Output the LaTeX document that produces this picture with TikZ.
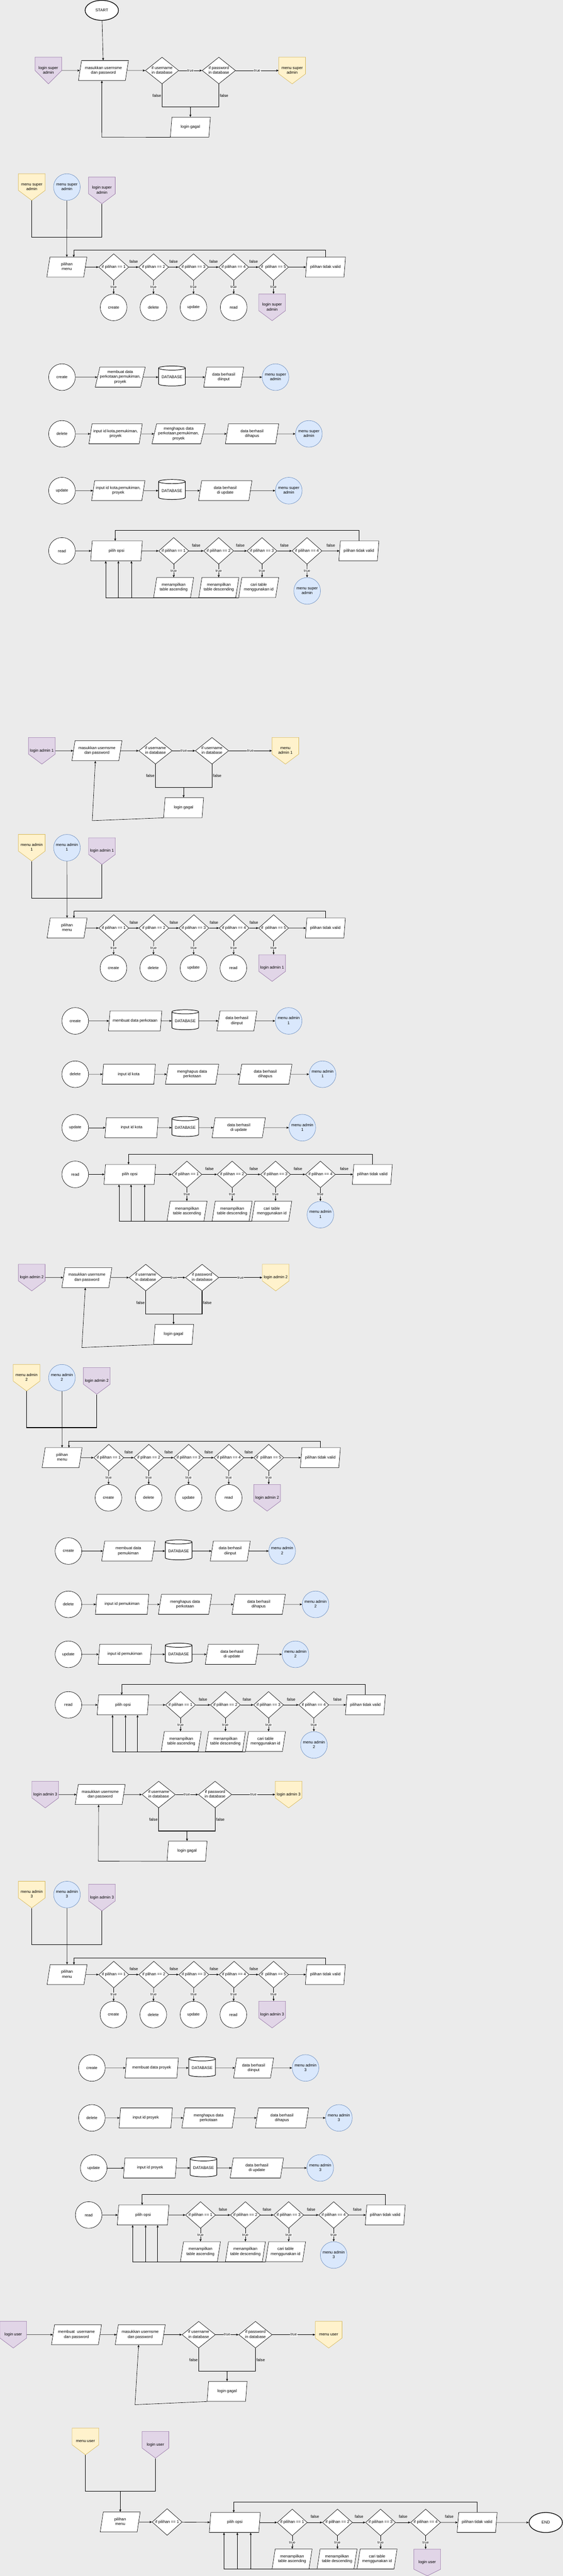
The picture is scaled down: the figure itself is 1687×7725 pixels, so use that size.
\documentclass[tikz,border=0pt]{standalone}
\usepackage{fontspec}
\setmainfont{Liberation Sans}
\usetikzlibrary{shapes.geometric,arrows.meta}

\definecolor{hintergrund}{HTML}{EBEBEB}
\definecolor{lilaF}{HTML}{E1D5E7}
\definecolor{lilaR}{HTML}{9673A6}
\definecolor{gelbF}{HTML}{FFF2CC}
\definecolor{gelbR}{HTML}{D6B656}
\definecolor{blauF}{HTML}{DAE8FC}
\definecolor{blauR}{HTML}{6C8EBF}

\newcommand{\txt}[1]{\makebox[0pt]{\begin{tabular}{@{}c@{}}#1\end{tabular}}}
% Seitenverbinder: Name, x, y, Farbe, Spitze, Text
\newcommand{\verbinder}[6]{%
  \filldraw[fill=#4F, draw=#4R] (#2-40,#3-40) -- (#2+40,#3-40) -- (#2+40,#3+40-#5)
    -- (#2,#3+40) -- (#2-40,#3+40-#5) -- cycle;
  \draw (#2,#3) node[vb] (#1) {\txt{#6}};
}

\begin{document}
\begin{tikzpicture}[x=1pt, y=-1pt, line width=1pt,
  font=\fontsize{12}{14.4}\selectfont,
  pfeil/.style={-{Stealth[length=7pt,width=6pt,inset=1.5pt]}},
  dick/.style={line width=2pt},
  raute/.style={diamond, draw, fill=white, inner sep=0pt, minimum width=90pt, minimum height=80pt},
  breit/.style={raute, minimum width=100pt},
  eingabe/.style={trapezium, trapezium left angle=72, trapezium right angle=108,
    trapezium stretches body, draw, fill=white, inner sep=0pt, minimum height=60pt, minimum width=#1},
  eingabe/.default=120pt,
  kreis/.style={ellipse, draw, fill=white, inner sep=0pt, minimum width=80pt, minimum height=80pt},
  menu/.style={kreis, fill=blauF, draw=blauR},
  db/.style={cylinder, shape border rotate=90, aspect=0.2, draw, fill=white, line width=1.5pt,
    inner sep=0pt, minimum width=80pt, minimum height=60pt},
  ende/.style={ellipse, draw, fill=white, line width=2pt, inner sep=0pt, minimum width=100pt, minimum height=60pt},
  vb/.style={inner sep=0pt, minimum width=80pt, minimum height=80pt},
  wahr/.style={fill=white, inner sep=1pt, font=\fontsize{11}{13}\selectfont},
  falsch/.style={inner sep=2pt}]

\fill[hintergrund] (0,0) rectangle (1687,7725);
\useasboundingbox (0,0) rectangle (1687,7725);

% ---------------- Super Admin ----------------
% Anmeldung
\draw (305,31) node[ende] (start) {START};
\verbinder{lp1}{145}{211.5}{lila}{40}{login super\\admin}
\draw (310,211.5) node[eingabe=150pt] (in1) {\txt{masukkan usernsme\\dan password}};
\draw (485.6,211.5) node[breit] (un1) {\txt{if username\\in database}};
\draw (655.8,211.5) node[breit] (pw1) {\txt{if password\\in database}};
\verbinder{ms1}{875.5}{211.5}{gelb}{30}{menu super\\admin}
\draw (570.5,381.3) node[eingabe] (g1) {\txt{login gagal}};
\coordinate (j1) at (570.5,321);
\draw[pfeil] (start) -- (in1);
\draw[pfeil] (lp1) -- (in1);
\draw[pfeil] (in1) -- (un1);
\draw[pfeil] (un1) -- node[wahr]{true} (pw1);
\draw[pfeil] (pw1) -- node[wahr]{true} (ms1);
\draw[dick] (un1.south) -- node[falsch,left]{false} (un1.south |- j1) -- (pw1.south |- j1) -- node[falsch,right]{false} (pw1.south);
\draw[pfeil] (j1) -- (j1 |- g1.north);
\draw[pfeil] (g1.bottom left corner) -- (305,411.3) -- (in1.bottom side);

% Menue
\verbinder{ma1}{95.3}{561}{gelb}{30}{menu super\\admin}
\draw (200.4,561) node[menu] (mb1) {\txt{menu super\\admin}};
\verbinder{mc1}{305.4}{571}{lila}{30}{login super\\admin}
\coordinate (j2) at (200.4,711.3);
\draw[dick] (ma1.south) |- (mc1.south |- j2) -- (mc1.south);
\draw (200.3,801) node[eingabe] (pm1) {\txt{pilihan\\menu}};
\draw[pfeil] (mb1) -- (pm1);
\draw (340.8,801) node[raute] (a11) {\txt{if pilihan == 1}};
\draw (460.3,801) node[raute] (a12) {\txt{if plihan == 2}};
\draw (580,801) node[raute] (a13) {\txt{if pilihan == 3}};
\draw (700.3,801) node[raute] (a14) {\txt{if pilihan == 4}};
\draw (819.7,801) node[raute] (a15) {\txt{if~~pilihan == 5}};
\draw (975.4,801) node[eingabe] (tv1) {\txt{pilihan tidak valid}};
\coordinate (k1) at (221,771);
\draw[pfeil] (pm1) -- (a11);
\draw[pfeil] (a11) -- node[falsch,above=10pt]{false} (a12);
\draw[pfeil] (a12) -- node[falsch,above=10pt]{false} (a13);
\draw[pfeil] (a13) -- node[falsch,above=10pt]{false} (a14);
\draw[pfeil] (a14) -- node[falsch,above=10pt]{false} (a15);
\draw[pfeil] (a15) -- (tv1);
\draw[pfeil] (tv1.north) -- ++(0,-20) -| (k1);
\draw (340.4,921.7) node[kreis] (cre1) {create};
\draw (459.8,921.7) node[kreis] (del1) {delete};
\draw (579.8,921.7) node[kreis] (upd1) {update};
\draw (700.3,921.7) node[kreis] (rea1) {read};
\verbinder{lx1}{815.4}{921.7}{lila}{30}{login super\\admin}
\draw[pfeil] (a11) -- node[wahr]{true} (cre1);
\draw[pfeil] (a12) -- node[wahr]{true} (del1);
\draw[pfeil] (a13) -- node[wahr]{true} (upd1);
\draw[pfeil] (a14) -- node[wahr]{true} (rea1);
\draw[pfeil] (a15.south) -- node[wahr]{true} (a15.south |- lx1.north);

% create
\draw (185.8,1131) node[kreis] (c1) {create};
\draw (360.3,1131) node[eingabe=150pt] (c1a) {\txt{membuat data\\perkotaan,pemukiman,\\proyek}};
\draw (515.3,1131) node[db] (c1b) {DATABASE};
\draw (670.4,1131) node[eingabe] (c1c) {\txt{data berhasil\\diinput}};
\draw (825.6,1131) node[menu] (c1d) {\txt{menu super\\admin}};
\draw[pfeil] (c1) -- (c1a);
\draw[pfeil] (c1a) -- (c1b);
\draw[pfeil] (c1b) -- (c1c);
\draw[pfeil] (c1c) -- (c1d);

% delete
\draw (185.8,1301) node[kreis] (d1) {delete};
\draw (346.4,1301) node[eingabe=160pt] (d1a) {\txt{input id kota,pemukiman,\\proyek}};
\draw (535.3,1301) node[eingabe=160pt] (d1b) {\txt{menghapus data\\perkotaan,pemukiman,\\proyek}};
\draw (755.3,1301) node[eingabe=160pt] (d1c) {\txt{data berhasil\\dihapus}};
\draw (925.6,1301) node[menu] (d1d) {\txt{menu super\\admin}};
\draw[pfeil] (d1) -- (d1a);
\draw[pfeil] (d1a) -- (d1b);
\draw[pfeil] (d1b) -- (d1c);
\draw[pfeil] (d1c) -- (d1d);

% update
\draw (185.8,1471.4) node[kreis] (e1) {update};
\draw (354.4,1471.4) node[eingabe=160pt] (e1a) {\txt{input id kota,pemukiman,\\proyek}};
\draw (515.3,1471.4) node[db] (e1b) {DATABASE};
\draw (675,1471.4) node[eingabe=160pt] (e1c) {\txt{data berhasil\\di update}};
\draw (865.4,1471.4) node[menu] (e1d) {\txt{menu super\\admin}};
\draw[pfeil] (e1) -- (e1a);
\draw[pfeil] (e1a) -- (e1b);
\draw[pfeil] (e1b) -- (e1c);
\draw[pfeil] (e1c) -- (e1d);

% read
\draw (185.8,1652) node[kreis] (rd1) {read};
\draw (349.2,1652) node[eingabe=155pt] (po1) {\txt{pilih opsi}};
\draw (520.6,1652) node[raute] (q11) {\txt{if pilihan == 1}};
\draw (655.3,1652) node[raute] (q12) {\txt{if pilihan == 2}};
\draw (785.2,1652) node[raute] (q13) {\txt{if pilihan == 3}};
\draw (920,1652) node[raute] (q14) {\txt{if pilihan == 4}};
\draw (1075.4,1652) node[eingabe] (rv1) {\txt{pilihan tidak valid}};
\draw (520.3,1762) node[eingabe] (o11) {\txt{menampilkan\\table ascending}};
\draw (655.7,1762) node[eingabe] (o12) {\txt{menampilkan\\table descending}};
\draw (775.3,1762) node[eingabe] (o13) {\txt{cari table\\menggunakan id}};
\draw (920.4,1772) node[menu] (o14) {\txt{menu super\\admin}};
\coordinate (k2) at (345.2,1622);
\draw[pfeil] (rd1) -- (po1);
\draw[pfeil] (po1) -- (q11);
\draw[pfeil] (q11) -- node[falsch,above=10pt]{false} (q12);
\draw[pfeil] (q12) -- node[falsch,above=10pt]{false} (q13);
\draw[pfeil] (q13) -- node[falsch,above=10pt]{false} (q14);
\draw[pfeil] (q14) -- node[falsch,above=10pt]{false} (rv1);
\draw[pfeil] (rv1.north) -- ++(0,-30.5) -| (k2);
\draw[pfeil] (q11.south) -- node[wahr]{true} (q11.south |- o11.north);
\draw[pfeil] (q12.south) -- node[wahr]{true} (q12.south |- o12.north);
\draw[pfeil] (q13.south) -- node[wahr]{true} (q13.south |- o13.north);
\draw[pfeil] (q14) -- node[wahr]{true} (o14);
\draw[pfeil] (o11.bottom left corner) -| ([xshift=47pt]po1.bottom side);
\draw[pfeil] (o12.bottom left corner) -| ([xshift=8pt]po1.bottom side);
\draw[pfeil] (o13.bottom left corner) -| ([xshift=-30pt]po1.bottom side);

% ---------------- Admin 1 ----------------
% Anmeldung
\verbinder{lp2}{125.4}{2251.4}{lila}{30}{login admin 1}
\draw (290.5,2251.4) node[eingabe=150pt] (in2) {\txt{masukkan usernsme\\dan password}};
\draw (466,2251.4) node[breit] (un2) {\txt{if username\\in database}};
\draw (635.3,2251.4) node[breit] (pw2) {\txt{if username\\in database}};
\verbinder{ms2}{855.3}{2251.4}{gelb}{30}{menu\\admin 1}
\draw (550.2,2422) node[eingabe] (g2) {\txt{login gagal}};
\coordinate (j3) at (550.2,2361.4);
\draw[pfeil] (lp2) -- (in2);
\draw[pfeil] (in2) -- (un2);
\draw[pfeil] (un2) -- node[wahr]{true} (pw2);
\draw[pfeil] (pw2) -- node[wahr]{true} (ms2);
\draw[dick] (un2.south) -- node[falsch,left]{false} (un2.south |- j3) -- (pw2.south |- j3) -- node[falsch,right]{false} (pw2.south);
\draw[pfeil] (j3) -- (j3 |- g2.north);
\draw[pfeil] (g2.bottom left corner) -- (276.5,2461) -- (in2.bottom side);

% Menue
\verbinder{ma2}{95.2}{2542.2}{gelb}{30}{menu admin\\1}
\draw (200.6,2542.2) node[menu] (mb2) {\txt{menu admin\\1}};
\verbinder{mc2}{305.5}{2552.3}{lila}{30}{login admin 1}
\coordinate (j4) at (200.6,2693.4);
\draw[dick] (ma2.south) |- (mc2.south |- j4) -- (mc2.south);
\draw (201,2783) node[eingabe] (pm2) {\txt{pilihan\\menu}};
\draw[pfeil] (mb2) -- (pm2);
\draw (341,2783) node[raute] (a21) {\txt{if pilihan == 1}};
\draw (461,2783) node[raute] (a22) {\txt{if plihan == 2}};
\draw (581,2783) node[raute] (a23) {\txt{if pilihan == 3}};
\draw (701.5,2783) node[raute] (a24) {\txt{if pilihan == 4}};
\draw (820,2783) node[raute] (a25) {\txt{if~~pilihan == 5}};
\draw (975,2783) node[eingabe] (tv2) {\txt{pilihan tidak valid}};
\coordinate (k3) at (221.6,2753);
\draw[pfeil] (pm2) -- (a21);
\draw[pfeil] (a21) -- node[falsch,above=10pt]{false} (a22);
\draw[pfeil] (a22) -- node[falsch,above=10pt]{false} (a23);
\draw[pfeil] (a23) -- node[falsch,above=10pt]{false} (a24);
\draw[pfeil] (a24) -- node[falsch,above=10pt]{false} (a25);
\draw[pfeil] (a25) -- (tv2);
\draw[pfeil] (tv2.north) -- ++(0,-20.4) -| (k3);
\draw (340,2903) node[kreis] (cre2) {create};
\draw (459.4,2903) node[kreis] (del2) {delete};
\draw (579.9,2903) node[kreis] (upd2) {update};
\draw (699.3,2903) node[kreis] (rea2) {read};
\verbinder{lx2}{815.5}{2903}{lila}{30}{login admin 1}
\draw[pfeil] (a21) -- node[wahr]{true} (cre2);
\draw[pfeil] (a22) -- node[wahr]{true} (del2);
\draw[pfeil] (a23) -- node[wahr]{true} (upd2);
\draw[pfeil] (a24) -- node[wahr]{true} (rea2);
\draw[pfeil] (a25.south) -- node[wahr]{true} (a25.south |- lx2.north);

% create
\draw (225.4,3061.5) node[kreis] (c2) {create};
\draw (405,3061.5) node[eingabe=160pt] (c2a) {\txt{membuat data perkotaan}};
\draw (555.2,3061.5) node[db] (c2b) {DATABASE};
\draw (710,3061.5) node[eingabe] (c2c) {\txt{data berhasil\\diinput}};
\draw (865,3061.5) node[menu] (c2d) {\txt{menu admin\\1}};
\draw[pfeil] (c2) -- (c2a);
\draw[pfeil] (c2a) -- (c2b);
\draw[pfeil] (c2b) -- (c2c);
\draw[pfeil] (c2c) -- (c2d);

% delete
\draw (225.4,3221.5) node[kreis] (d2) {delete};
\draw (385.7,3221.5) node[eingabe=160pt] (d2a) {\txt{input id kota}};
\draw (575.6,3221.5) node[eingabe=160pt] (d2b) {\txt{menghapus data\\perkotaan}};
\draw (795,3221.5) node[eingabe=160pt] (d2c) {\txt{data berhasil\\dihapus}};
\draw (966.7,3221.5) node[menu] (d2d) {\txt{menu admin\\1}};
\draw[pfeil] (d2) -- (d2a);
\draw[pfeil] (d2a) -- (d2b);
\draw[pfeil] (d2b) -- (d2c);
\draw[pfeil] (d2c) -- (d2d);

% update
\draw (225.4,3381.7) node[kreis] (e2) {update};
\draw (394.3,3381.7) node[eingabe=160pt] (e2a) {\txt{input id kota}};
\draw (555.2,3381.7) node[db] (e2b) {DATABASE};
\draw (715.4,3381.7) node[eingabe=160pt] (e2c) {\txt{data berhasil\\di update}};
\draw (906,3381.7) node[menu] (e2d) {\txt{menu admin\\1}};
\draw[pfeil] (e2) -- (e2a);
\draw[pfeil] (e2a) -- (e2b);
\draw[pfeil] (e2b) -- (e2c);
\draw[pfeil] (e2c) -- (e2d);

% read
\draw (225.4,3521.8) node[kreis] (rd2) {read};
\draw (389,3521.8) node[eingabe=155pt] (po2) {\txt{pilih opsi}};
\draw (560,3521.8) node[raute] (q21) {\txt{if pilihan == 1}};
\draw (695.6,3521.8) node[raute] (q22) {\txt{if pilihan == 2}};
\draw (825.7,3521.8) node[raute] (q23) {\txt{if pilihan == 3}};
\draw (960.2,3521.8) node[raute] (q24) {\txt{if pilihan == 4}};
\draw (1115.7,3521.8) node[eingabe] (rv2) {\txt{pilihan tidak valid}};
\draw (560.5,3632) node[eingabe] (o21) {\txt{menampilkan\\table ascending}};
\draw (695.6,3632) node[eingabe] (o22) {\txt{menampilkan\\table descending}};
\draw (814.4,3632) node[eingabe] (o23) {\txt{cari table\\menggunakan id}};
\draw (960.2,3642.6) node[menu] (o24) {\txt{menu admin\\1}};
\coordinate (k4) at (385.2,3491.8);
\draw[pfeil] (rd2) -- (po2);
\draw[pfeil] (po2) -- (q21);
\draw[pfeil] (q21) -- node[falsch,above=10pt]{false} (q22);
\draw[pfeil] (q22) -- node[falsch,above=10pt]{false} (q23);
\draw[pfeil] (q23) -- node[falsch,above=10pt]{false} (q24);
\draw[pfeil] (q24) -- node[falsch,above=10pt]{false} (rv2);
\draw[pfeil] (rv2.north) -- ++(0,-30.2) -| (k4);
\draw[pfeil] (q21.south) -- node[wahr]{true} (q21.south |- o21.north);
\draw[pfeil] (q22.south) -- node[wahr]{true} (q22.south |- o22.north);
\draw[pfeil] (q23.south) -- node[wahr]{true} (q23.south |- o23.north);
\draw[pfeil] (q24) -- node[wahr]{true} (o24);
\draw[pfeil] (o21.bottom left corner) -| ([xshift=47pt]po2.bottom side);
\draw[pfeil] (o22.bottom left corner) -| ([xshift=6pt]po2.bottom side);
\draw[pfeil] (o23.bottom left corner) -| ([xshift=-30pt]po2.bottom side);

% ---------------- Admin 2 ----------------
% Anmeldung
\verbinder{lp3}{95.2}{3831.2}{lila}{30}{login admin 2}
\draw (260.4,3831.2) node[eingabe=150pt] (in3) {\txt{masukkan usernsme\\dan password}};
\draw (436.8,3831.2) node[breit] (un3) {\txt{if username\\in database}};
\draw (605.7,3831.2) node[breit] (pw3) {\txt{if password\\in database}};
\verbinder{ms3}{826.2}{3831.2}{gelb}{30}{login admin 2}
\draw (520.2,4001.7) node[eingabe] (g3) {\txt{login gagal}};
\coordinate (j5) at (520.2,3940.6);
\draw[pfeil] (lp3) -- (in3);
\draw[pfeil] (in3) -- (un3);
\draw[pfeil] (un3) -- node[wahr]{true} (pw3);
\draw[pfeil] (pw3) -- node[wahr]{true} (ms3);
\draw[dick] (un3.south) -- node[falsch,left]{false} (un3.south |- j5) -- (pw3.south |- j5) -- node[falsch,right]{false} (pw3.south);
\draw[pfeil] (j5) -- (j5 |- g3.north);
\draw[pfeil] (g3.bottom left corner) -- (245.3,4041) -- (in3.bottom side);

% Menue
\verbinder{ma3}{79.6}{4131.6}{gelb}{30}{menu admin\\2}
\draw (185.6,4131.6) node[menu] (mb3) {\txt{menu admin\\2}};
\verbinder{mc3}{290}{4141}{lila}{30}{login admin 2}
\coordinate (j6) at (185.6,4281.1);
\draw[dick] (ma3.south) |- (mc3.south |- j6) -- (mc3.south);
\draw (186.1,4371.2) node[eingabe] (pm3) {\txt{pilihan\\menu}};
\draw[pfeil] (mb3) -- (pm3);
\draw (326,4371.2) node[raute] (a31) {\txt{if pilihan == 1}};
\draw (446,4371.2) node[raute] (a32) {\txt{if plihan == 2}};
\draw (565.4,4371.2) node[raute] (a33) {\txt{if pilihan == 3}};
\draw (685.9,4371.2) node[raute] (a34) {\txt{if pilihan == 4}};
\draw (805.3,4371.2) node[raute] (a35) {\txt{if~~pilihan == 5}};
\draw (960,4371.2) node[eingabe] (tv3) {\txt{pilihan tidak valid}};
\coordinate (k5) at (206.6,4341.2);
\draw[pfeil] (pm3) -- (a31);
\draw[pfeil] (a31) -- node[falsch,above=10pt]{false} (a32);
\draw[pfeil] (a32) -- node[falsch,above=10pt]{false} (a33);
\draw[pfeil] (a33) -- node[falsch,above=10pt]{false} (a34);
\draw[pfeil] (a34) -- node[falsch,above=10pt]{false} (a35);
\draw[pfeil] (a35) -- (tv3);
\draw[pfeil] (tv3.north) -- ++(0,-18.9) -| (k5);
\draw (325,4491.6) node[kreis] (cre3) {create};
\draw (445.4,4491.6) node[kreis] (del3) {delete};
\draw (564.8,4491.6) node[kreis] (upd3) {update};
\draw (685.3,4491.6) node[kreis] (rea3) {read};
\verbinder{lx3}{800.5}{4491.6}{lila}{30}{login admin 2}
\draw[pfeil] (a31) -- node[wahr]{true} (cre3);
\draw[pfeil] (a32) -- node[wahr]{true} (del3);
\draw[pfeil] (a33) -- node[wahr]{true} (upd3);
\draw[pfeil] (a34) -- node[wahr]{true} (rea3);
\draw[pfeil] (a35.south) -- node[wahr]{true} (a35.south |- lx3.north);

% create
\draw (205,4651.2) node[kreis] (c3) {create};
\draw (384.6,4651.2) node[eingabe=160pt] (c3a) {\txt{membuat data\\pemukiman}};
\draw (535.3,4651.2) node[db] (c3b) {DATABASE};
\draw (690,4651.2) node[eingabe] (c3c) {\txt{data berhasil\\diinput}};
\draw (845.6,4651.2) node[menu] (c3d) {\txt{menu admin\\2}};
\draw[pfeil] (c3) -- (c3a);
\draw[pfeil] (c3a) -- (c3b);
\draw[pfeil] (c3b) -- (c3c);
\draw[pfeil] (c3c) -- (c3d);

% delete
\draw (205,4811.2) node[kreis] (d3) {delete};
\draw (365.8,4811.2) node[eingabe=160pt] (d3a) {\txt{input id pemukiman}};
\draw (554.6,4811.2) node[eingabe=160pt] (d3b) {\txt{menghapus data\\perkotaan}};
\draw (775.2,4811.2) node[eingabe=160pt] (d3c) {\txt{data berhasil\\dihapus}};
\draw (945.7,4811.2) node[menu] (d3d) {\txt{menu admin\\2}};
\draw[pfeil] (d3) -- (d3a);
\draw[pfeil] (d3a) -- (d3b);
\draw[pfeil] (d3b) -- (d3c);
\draw[pfeil] (d3c) -- (d3d);

% update
\draw (205,4961) node[kreis] (e3) {update};
\draw (374.3,4961) node[eingabe=160pt] (e3a) {\txt{input id pemukiman}};
\draw (535.3,4961) node[db] (e3b) {DATABASE};
\draw (695,4961) node[eingabe=160pt] (e3c) {\txt{data berhasil\\di update}};
\draw (885.5,4961) node[menu] (e3d) {\txt{menu admin\\2}};
\draw[pfeil] (e3) -- (e3a);
\draw[pfeil] (e3a) -- (e3b);
\draw[pfeil] (e3b) -- (e3c);
\draw[pfeil] (e3c) -- (e3d);

% read
\draw (205,5112.6) node[kreis] (rd3) {read};
\draw (368.5,5112.6) node[eingabe=155pt] (po3) {\txt{pilih opsi}};
\draw (541,5112.6) node[raute] (q31) {\txt{if pilihan == 1}};
\draw (675.6,5112.6) node[raute] (q32) {\txt{if pilihan == 2}};
\draw (804.8,5112.6) node[raute] (q33) {\txt{if pilihan == 3}};
\draw (940.3,5112.6) node[raute] (q34) {\txt{if pilihan == 4}};
\draw (1095,5112.6) node[eingabe] (rv3) {\txt{pilihan tidak valid}};
\draw (543,5222.5) node[eingabe] (o31) {\txt{menampilkan\\table ascending}};
\draw (675.7,5222.5) node[eingabe] (o32) {\txt{menampilkan\\table descending}};
\draw (795.6,5222.5) node[eingabe] (o33) {\txt{cari table\\menggunakan id}};
\draw (940.8,5232.7) node[menu] (o34) {\txt{menu admin\\2}};
\coordinate (k6) at (364.7,5082.6);
\draw[pfeil] (rd3) -- (po3);
\draw[pfeil] (po3) -- (q31);
\draw[pfeil] (q31) -- node[falsch,above=10pt]{false} (q32);
\draw[pfeil] (q32) -- node[falsch,above=10pt]{false} (q33);
\draw[pfeil] (q33) -- node[falsch,above=10pt]{false} (q34);
\draw[pfeil] (q34) -- node[falsch,above=10pt]{false} (rv3);
\draw[pfeil] (rv3.north) -- ++(0,-30.8) -| (k6);
\draw[pfeil] (q31.south) -- node[wahr]{true} (q31.south |- o31.north);
\draw[pfeil] (q32.south) -- node[wahr]{true} (q32.south |- o32.north);
\draw[pfeil] (q33.south) -- node[wahr]{true} (q33.south |- o33.north);
\draw[pfeil] (q34) -- node[wahr]{true} (o34);
\draw[pfeil] (o31.bottom left corner) -| ([xshift=46pt]po3.bottom side);
\draw[pfeil] (o32.bottom left corner) -| ([xshift=10pt]po3.bottom side);
\draw[pfeil] (o33.bottom left corner) -| ([xshift=-29pt]po3.bottom side);

% ---------------- Admin 3 ----------------
% Anmeldung
\verbinder{lp4}{135.6}{5381.5}{lila}{30}{login admin 3}
\draw (300.2,5381.5) node[eingabe=150pt] (in4) {\txt{masukkan usernsme\\dan password}};
\draw (475.6,5381.5) node[breit] (un4) {\txt{if username\\in database}};
\draw (644.5,5381.5) node[breit] (pw4) {\txt{if password\\in database}};
\verbinder{ms4}{865}{5381.5}{gelb}{30}{login admin 3}
\draw (560.5,5551.2) node[eingabe] (g4) {\txt{login gagal}};
\coordinate (j7) at (560.5,5491);
\draw[pfeil] (lp4) -- (in4);
\draw[pfeil] (in4) -- (un4);
\draw[pfeil] (un4) -- node[wahr]{true} (pw4);
\draw[pfeil] (pw4) -- node[wahr]{true} (ms4);
\draw[dick] (un4.south) -- node[falsch,left]{false} (un4.south |- j7) -- (pw4.south |- j7) -- node[falsch,right]{false} (pw4.south);
\draw[pfeil] (j7) -- (j7 |- g4.north);
\draw[pfeil] (g4.bottom left corner) -- (294.8,5581.2) -- (in4.bottom side);

% Menue
\verbinder{ma4}{95.2}{5681.4}{gelb}{30}{menu admin\\3}
\draw (200.7,5681.4) node[menu] (mb4) {\txt{menu admin\\3}};
\verbinder{mc4}{305.5}{5690.4}{lila}{30}{login admin 3}
\coordinate (j8) at (200.7,5831.4);
\draw[dick] (ma4.south) |- (mc4.south |- j8) -- (mc4.south);
\draw (201,5921.3) node[eingabe] (pm4) {\txt{pilihan\\menu}};
\draw[pfeil] (mb4) -- (pm4);
\draw (341,5921.3) node[raute] (a41) {\txt{if pilihan == 1}};
\draw (461,5921.3) node[raute] (a42) {\txt{if plihan == 2}};
\draw (581,5921.3) node[raute] (a43) {\txt{if pilihan == 3}};
\draw (701.5,5921.3) node[raute] (a44) {\txt{if pilihan == 4}};
\draw (820,5921.3) node[raute] (a45) {\txt{if~~pilihan == 5}};
\draw (975,5921.3) node[eingabe] (tv4) {\txt{pilihan tidak valid}};
\coordinate (k7) at (221.6,5891.3);
\draw[pfeil] (pm4) -- (a41);
\draw[pfeil] (a41) -- node[falsch,above=10pt]{false} (a42);
\draw[pfeil] (a42) -- node[falsch,above=10pt]{false} (a43);
\draw[pfeil] (a43) -- node[falsch,above=10pt]{false} (a44);
\draw[pfeil] (a44) -- node[falsch,above=10pt]{false} (a45);
\draw[pfeil] (a45) -- (tv4);
\draw[pfeil] (tv4.north) -- ++(0,-19.3) -| (k7);
\draw (340,6041.3) node[kreis] (cre4) {create};
\draw (459.4,6041.3) node[kreis] (del4) {delete};
\draw (579.9,6041.3) node[kreis] (upd4) {update};
\draw (699.3,6041.3) node[kreis] (rea4) {read};
\verbinder{lx4}{815.5}{6041.3}{lila}{30}{login admin 3}
\draw[pfeil] (a41) -- node[wahr]{true} (cre4);
\draw[pfeil] (a42) -- node[wahr]{true} (del4);
\draw[pfeil] (a43) -- node[wahr]{true} (upd4);
\draw[pfeil] (a44) -- node[wahr]{true} (rea4);
\draw[pfeil] (a45.south) -- node[wahr]{true} (a45.south |- lx4.north);

% create
\draw (275.4,6201.3) node[kreis] (c4) {create};
\draw (454.6,6201.3) node[eingabe=160pt] (c4a) {\txt{membuat data proyek}};
\draw (605.7,6201.3) node[db] (c4b) {DATABASE};
\draw (760,6201.3) node[eingabe] (c4c) {\txt{data berhasil\\diinput}};
\draw (915.6,6201.3) node[menu] (c4d) {\txt{menu admin\\3}};
\draw[pfeil] (c4) -- (c4a);
\draw[pfeil] (c4a) -- (c4b);
\draw[pfeil] (c4b) -- (c4c);
\draw[pfeil] (c4c) -- (c4d);

% delete
\draw (275.4,6351.2) node[kreis] (d4) {delete};
\draw (436.7,6351.2) node[eingabe=160pt] (d4a) {\txt{input id proyek}};
\draw (625,6351.2) node[eingabe=160pt] (d4b) {\txt{menghapus data\\perkotaan}};
\draw (845,6351.2) node[eingabe=160pt] (d4c) {\txt{data berhasil\\dihapus}};
\draw (1015.6,6351.2) node[menu] (d4d) {\txt{menu admin\\3}};
\draw[pfeil] (d4) -- (d4a);
\draw[pfeil] (d4a) -- (d4b);
\draw[pfeil] (d4b) -- (d4c);
\draw[pfeil] (d4c) -- (d4d);

% update
\draw (280.8,6501.3) node[kreis] (e4) {update};
\draw (449.7,6501.3) node[eingabe=160pt] (e4a) {\txt{input id proyek}};
\draw (610,6501.3) node[db] (e4b) {DATABASE};
\draw (769.8,6501.3) node[eingabe=160pt] (e4c) {\txt{data berhasil\\di update}};
\draw (959.7,6501.3) node[menu] (e4d) {\txt{menu admin\\3}};
\draw[pfeil] (e4) -- (e4a);
\draw[pfeil] (e4a) -- (e4b);
\draw[pfeil] (e4b) -- (e4c);
\draw[pfeil] (e4c) -- (e4d);

% read
\draw (265.8,6642.3) node[kreis] (rd4) {read};
\draw (428.8,6642.3) node[eingabe=155pt] (po4) {\txt{pilih opsi}};
\draw (600.9,6642.3) node[raute] (q41) {\txt{if pilihan == 1}};
\draw (735.4,6642.3) node[raute] (q42) {\txt{if pilihan == 2}};
\draw (865,6642.3) node[raute] (q43) {\txt{if pilihan == 3}};
\draw (1000,6642.3) node[raute] (q44) {\txt{if pilihan == 4}};
\draw (1154.5,6642.3) node[eingabe] (rv4) {\txt{pilihan tidak valid}};
\draw (600.6,6752.4) node[eingabe] (o41) {\txt{menampilkan\\table ascending}};
\draw (735.4,6752.4) node[eingabe] (o42) {\txt{menampilkan\\table descending}};
\draw (855.8,6752.4) node[eingabe] (o43) {\txt{cari table\\menggunakan id}};
\draw (1000,6762.3) node[menu] (o44) {\txt{menu admin\\3}};
\coordinate (k8) at (426,6612.3);
\draw[pfeil] (rd4) -- (po4);
\draw[pfeil] (po4) -- (q41);
\draw[pfeil] (q41) -- node[falsch,above=10pt]{false} (q42);
\draw[pfeil] (q42) -- node[falsch,above=10pt]{false} (q43);
\draw[pfeil] (q43) -- node[falsch,above=10pt]{false} (q44);
\draw[pfeil] (q44) -- node[falsch,above=10pt]{false} (rv4);
\draw[pfeil] (rv4.north) -- ++(0,-30.7) -| (k8);
\draw[pfeil] (q41.south) -- node[wahr]{true} (q41.south |- o41.north);
\draw[pfeil] (q42.south) -- node[wahr]{true} (q42.south |- o42.north);
\draw[pfeil] (q43.south) -- node[wahr]{true} (q43.south |- o43.north);
\draw[pfeil] (q44) -- node[wahr]{true} (o44);
\draw[pfeil] (o41.bottom left corner) -| ([xshift=46pt]po4.bottom side);
\draw[pfeil] (o42.bottom left corner) -| ([xshift=10pt]po4.bottom side);
\draw[pfeil] (o43.bottom left corner) -| ([xshift=-29pt]po4.bottom side);

% ---------------- User ----------------
% Anmeldung
\verbinder{lp5}{39.8}{7001.3}{lila}{30}{login user}
\draw (229.2,7001.3) node[eingabe=150pt] (mu5) {\txt{membuat~ username\\dan password}};
\draw (420.2,7001.3) node[eingabe=150pt] (in5) {\txt{masukkan usernsme\\dan password}};
\draw (595.5,7001.3) node[breit] (un5) {\txt{if username\\in database}};
\draw (765.5,7001.3) node[breit] (pw5) {\txt{if password\\in database}};
\verbinder{ms5}{985}{7001.3}{gelb}{30}{menu user}
\draw (680.5,7171.2) node[eingabe] (g5) {\txt{login gagal}};
\coordinate (j9) at (680.5,7111.2);
\draw[pfeil] (lp5) -- (mu5);
\draw[pfeil] (mu5) -- (in5);
\draw[pfeil] (in5) -- (un5);
\draw[pfeil] (un5) -- node[wahr]{true} (pw5);
\draw[pfeil] (pw5) -- node[wahr]{true} (ms5);
\draw[dick] (un5.south) -- node[falsch,left]{false} (un5.south |- j9) -- (pw5.south |- j9) -- node[falsch,right]{false} (pw5.south);
\draw[pfeil] (j9) -- (j9 |- g5.north);
\draw[pfeil] (g5.bottom left corner) -- (404.5,7211.2) -- (in5.bottom side);

% Menue
\verbinder{ma5}{256.1}{7321.4}{gelb}{30}{menu user}
\verbinder{mc5}{465.9}{7331.4}{lila}{30}{login user}
\coordinate (j10) at (360.4,7471.2);
\draw[dick] (ma5.south) |- (mc5.south |- j10) -- (mc5.south);
\draw (360.2,7563) node[eingabe] (pm5) {\txt{pilihan\\menu}};
\draw[pfeil] (j10) -- (j10 |- pm5.north);
\draw (500.8,7563) node[raute] (a51) {\txt{if pilihan == 1}};
\draw (703.6,7564.3) node[eingabe=153pt] (po5) {\txt{pilih opsi}};
\draw (875.8,7564.3) node[raute] (q51) {\txt{if pilihan == 1}};
\draw (1011.3,7564.3) node[raute] (q52) {\txt{if pilihan == 2}};
\draw (1140.5,7564.3) node[raute] (q53) {\txt{if pilihan == 3}};
\draw (1275.5,7564.3) node[raute] (q54) {\txt{if pilihan == 4}};
\draw (1429.8,7564.3) node[eingabe] (rv5) {\txt{pilihan tidak valid}};
\draw (1635.4,7564.5) node[ende] (ende) {END};
\draw (875.3,7674) node[eingabe] (o51) {\txt{menampilkan\\table ascending}};
\draw (1010,7674) node[eingabe] (o52) {\txt{menampilkan\\table descending}};
\draw (1130,7674) node[eingabe] (o53) {\txt{cari table\\menggunakan id}};
\verbinder{lx5}{1280.3}{7684.6}{lila}{20}{login user}
\coordinate (k9) at (700.4,7534.3);
\draw[pfeil] (pm5) -- (a51);
\draw[pfeil] (a51) -- (po5);
\draw[pfeil] (po5) -- (q51);
\draw[pfeil] (q51) -- node[falsch,above=10pt]{false} (q52);
\draw[pfeil] (q52) -- node[falsch,above=10pt]{false} (q53);
\draw[pfeil] (q53) -- node[falsch,above=10pt]{false} (q54);
\draw[pfeil] (q54) -- node[falsch,above=10pt]{false} (rv5);
\draw[pfeil] (rv5) -- (ende);
\draw[pfeil] (rv5.north) -- ++(0,-31) -| (k9);
\draw[pfeil] (q51.south) -- node[wahr]{true} (q51.south |- o51.north);
\draw[pfeil] (q52.south) -- node[wahr]{true} (q52.south |- o52.north);
\draw[pfeil] (q53.south) -- node[wahr]{true} (q53.south |- o53.north);
\draw[pfeil] (q54.south) -- node[wahr]{true} (q54.south |- lx5.north);
\draw[pfeil] (o51.bottom left corner) -| ([xshift=50pt]po5.bottom side);
\draw[pfeil] (o52.bottom left corner) -| ([xshift=10pt]po5.bottom side);
\draw[pfeil] (o53.bottom left corner) -| ([xshift=-30pt]po5.bottom side);
\end{tikzpicture}
\end{document}
